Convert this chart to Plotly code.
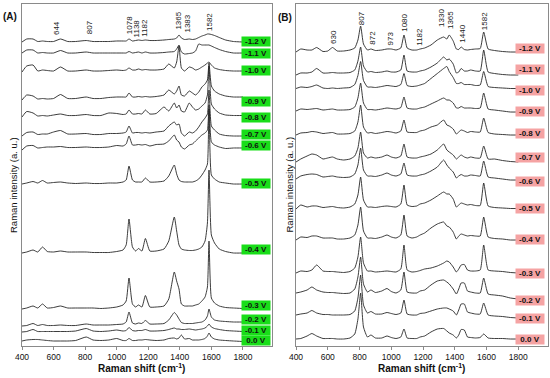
import plotly.graph_objects as go

# ---------------- data ----------------
potentials = ["-1.2 V", "-1.1 V", "-1.0 V", "-0.9 V", "-0.8 V", "-0.7 V", "-0.6 V",
              "-0.5 V", "-0.4 V", "-0.3 V", "-0.2 V", "-0.1 V", "0.0 V"]

# Panel A: Raman shift grid (cm-1) and relative intensities of each spectrum
wn_A = [400, 430, 470, 500, 530, 560, 600, 644, 690, 740,
        807, 850, 900, 950, 1000, 1040, 1060, 1078, 1100, 1120,
        1138, 1160, 1182, 1210, 1250, 1300, 1330, 1365, 1380, 1395,
        1410, 1430, 1460, 1480, 1500, 1520, 1540, 1560, 1575, 1585,
        1600, 1620, 1650, 1690, 1740, 1800]

A_m12 = [0, 3, 3, 0.5, 1, 0.5, 0.5, 3, 0.5, 0.5,
         1.5, 0.5, 0.5, 0.5, 1, 1, 1, 3, 1, 1.5,
         2, 1.5, 2, 1.5, 1.5, 2, 2.5, 3, 4, 7,
         4, 2.5, 3, 2.5, 3, 4.5, 6, 7, 8, 8,
         7.5, 6.5, 4.5, 2, 0.5, 0]
A_m11 = [0, 3, 3, 0, 0.5, 0, 0, 2.5, 0, 0,
         1, 0, 0, 0, 0, 0, 0, 1.5, 0, 0.5,
         1, 0, 1, 0, 0, 0.5, 1, 1.5, 4, 8,
         1, -1, -0.5, 0, 2, 9, 8, 8, 8, 8,
         7, 5.5, 3.5, 1.5, 0, 0]
A_m10 = [0, 6, 7, 1, 2, 1.5, 1, 5, 1, 1,
         2, 1, 1, 1.5, 2, 1.5, 2, 4, 2, 2,
         3, 2, 2.5, 2, 2, 3, 8, 4, 10, 26,
         4, 1, 5, 4, 2, 3, 5, 7, 9, 10,
         7, 4, 2.5, 1.5, 1, 1]
A_m09 = [0, 5, 4, 1, 1.5, 1, 1.5, 5.5, 1.5, 1.5,
         3, 1.5, 1.5, 2.5, 3, 3, 3, 7, 3, 3,
         3.5, 3, 3.5, 3, 3.5, 5, 10, 6, 9, 14,
         5, 4, 9, 7, 5, 8, 13, 16, 20, 37,
         14, 9, 6, 4, 3, 3]
A_m08 = [0, 5.5, 4, 1, 1.5, 1, 2, 3, 1.5, 1.5,
         2.5, 1.5, 1.5, 4, 3.5, 2.5, 3, 7, 3, 3,
         3.5, 3, 7, 3, 3.5, 10, 6, 14, 9, 12,
         6, 5, 14, 10, 7, 8, 11, 14, 22, 51,
         13, 8, 4, 2, 1.5, 1.5]
A_m07 = [0, 3.5, 4, 1.5, 2, 2, 4, 5.5, 2, 2,
         2.5, 1.5, 1.5, 2.5, 2.5, 3, 4, 10, 3, 3.5,
         3.5, 3, 3.5, 3, 4, 5, 10, 14, 11, 12,
         3, 0, 4, 3, 5, 9, 14, 18, 22, 46,
         10, 6, 2, 0.5, 0, 0]
A_m06 = [0, 4, 4.5, 2, 2.5, 3, 3, 3.5, 2.5, 2.5,
         3, 2.5, 2.5, 3, 4.5, 4, 6, 14, 5, 5,
         5.5, 5, 5.5, 4, 5.5, 6, 9, 15, 10, 8,
         3, 1, 5, 6, 9, 12, 15, 17, 20, 45,
         8, 5, 3, 1.5, 2, 2]
A_m05 = [0, 1, 2.5, 1, 3.5, 1, 1.5, 2, 1, 0.5,
         1, 0.5, 0.5, 1, 1, 2, 4, 18, 4, 2,
         2, 2, 6, 2, 2, 3, 8, 19, 10, 4,
         2.5, 2, 2, 2, 3, 5, 9, 14, 20, 75,
         9, 5, 2, 1, 0, 0]
A_m04 = [0, 1, 3, 1, 6, 1.5, 1, 2, 1, 1,
         1, 0.5, 0.5, 0.5, 1.5, 3, 8, 34, 6, 2,
         4.5, 2, 14.5, 2, 2, 4, 12, 36, 22, 8,
         4, 3, 2.5, 2.5, 3, 4, 6, 12, 30, 83,
         18, 10, 4, 1.5, 0, 0]
A_m03 = [0, 1, 3, 1, 5, 1, 1.5, 3, 1, 1,
         1, 1, 0.5, 1, 2, 4, 8, 31, 5, 2,
         4, 2, 13.5, 2, 2, 3, 10, 37, 28, 20,
         5, 3, 3, 3, 4, 5, 8, 12, 22, 68,
         11, 6, 3, 1.5, 1, 0.5]
A_m02 = [0, 0.5, 2.5, 0.5, 1.5, 0.5, 0.5, 1, 0.5, 0.5,
         2, 1, 1, 1, 1.5, 2, 4, 14, 3, 2,
         3, 2.5, 5.5, 2, 2, 2.5, 6, 13.5, 11, 7,
         3.5, 2.5, 2.5, 2.5, 3, 3.5, 4, 6, 10, 17,
         9, 6, 5, 4.5, 4, 4]
A_m01 = [0, 0.5, 2.5, 0.5, 0.5, 0.5, 0.5, 0.5, 0.5, 1,
         3.5, 1, 0.5, 1, 2, 1, 1.5, 4.5, 1.5, 1,
         1.5, 1.5, 2.5, 1, 1, 1.5, 2.5, 4, 3, 3,
         2.5, 2.5, 3, 2.5, 2, 2.5, 3, 4, 6, 8,
         5, 3.5, 2.5, 1.5, 1, 0.5]
A_000 = [1, 2, 2.5, 2.5, 2, 1.5, 1, 1, 1, 1.5,
         5, 2, 1.5, 2, 3.5, 1.5, 1.5, 3.5, 1.5, 1.5,
         2, 2, 2.5, 2, 1.5, 2, 3.5, 4, 3, 4,
         7, 3, 3.5, 2, 2, 2, 2.5, 3.5, 6, 9,
         5, 3, 2, 1.5, 1, 0.5]

# Panel B
wn_B = [400, 430, 470, 500, 530, 570, 600, 630, 660, 700,
        740, 770, 790, 807, 825, 850, 872, 900, 940, 973,
        1000, 1030, 1060, 1080, 1100, 1130, 1160, 1182, 1210, 1250,
        1290, 1330, 1350, 1365, 1390, 1410, 1425, 1440, 1460, 1480,
        1500, 1530, 1560, 1582, 1610, 1650, 1700, 1750, 1800]

B_m12 = [0, 3, 2, 2, 4.5, 0.5, 1, 4.5, 1, 1,
         2, 4, 12, 26, 8, 2, 3, 1.5, 2, 3,
         3, 2, 4, 17, 4, 2, 2, 3, 4, 7,
         12, 15, 13, 17, 11, 3, 2.5, 5, 2.5, 2,
         2.5, 3, 3.5, 20, 3, 1.5, 0.5, 0, 0]
B_m11 = [0, 2, 2, 3, 6.5, 2, 2, 2.5, 2, 2,
         2.5, 5, 14, 28, 9, 3, 3.5, 2.5, 3, 4,
         3, 3, 5, 20, 4, 3, 3, 4, 5, 8,
         12, 18, 15, 16, 11, 2, 3, 6.5, 4, 4,
         5, 4, 4, 25, 3, 1.5, 0.5, 0, 0]
B_m10 = [0, 1.5, 1, 2, 3.5, 0.5, 0, 0.5, 0, 0.5,
         1, 4, 13, 27, 8, 1.5, 1.5, 1, 2, 3,
         2.5, 2, 4, 15, 3, 2, 2.5, 3.5, 5, 10,
         15, 20, 22, 17, 11, 5, 5, 6, 4, 4,
         4, 3, 3.5, 17, 2, 1, 0.5, 0, 0]
B_m09 = [0, 2, 1.5, 2, 2.5, 1, 1.5, 2, 1, 1,
         1.5, 4, 13, 28, 8, 1.5, 1.5, 1, 2, 3,
         2.5, 2, 3.5, 14, 3, 2, 2, 3, 4, 7,
         10, 13, 11, 11, 8, 3, 3, 4.5, 3, 3,
         3, 2.5, 3, 18, 2, 1, 0, -1, -1]
B_m08 = [0, 2, 2.5, 3.5, 3, 1.5, 2, 2.5, 1, 1,
         1.5, 4, 13, 30, 8, 2, 2.5, 1.5, 2.5, 3.5,
         3, 2, 4, 15, 3, 2.5, 2.5, 4, 5, 8,
         10, 15, 10, 9, 6, 1, 3, 5, 4, 2.5,
         3.5, 3, 3, 17, 2.5, 1, 0.5, 0, 0]
B_m07 = [0, 3, 6, 8, 7, 3, 4, 5, 3, 2,
         3, 6, 14, 30, 9, 4, 5, 4, 5, 7,
         5, 4, 6, 18, 5, 4, 4, 5, 6, 8,
         12, 18, 12, 10, 7, 3, 5, 7, 5, 4,
         5, 4, 4, 16, 3, 3, 1.5, 0.5, 0]
B_m06 = [0, 3, 4.5, 5, 4.5, 2, 2.5, 3, 2, 1.5,
         2, 5, 14, 31, 9, 3, 3, 2.5, 4, 6,
         4, 3, 5, 16, 4, 3, 3, 4, 5, 8,
         12, 19, 14, 11, 7, 1, 3, 4.5, 3, 3,
         4, 3.5, 3, 18, 2, 1, 0, -1, -1]
B_m05 = [0, 4, 2, 3, 3, 1.5, 2, 2.5, 1.5, 1,
         2, 5, 14, 32, 9, 2, 2, 1.5, 2.5, 3,
         2.5, 2, 5, 24, 4, 2.5, 3, 5, 6, 9,
         13, 17, 15, 15, 10, 2, 4, 6, 5, 4,
         4.5, 3.5, 3.5, 26, 3, 1.5, 1, 0.5, 0.5]
B_m04 = [0, 3, 2.5, 4, 4, 2, 2, 2, 1, 1,
         2, 5, 15, 33, 9, 2, 2, 1.5, 3, 5,
         3, 2, 5, 25, 4, 2, 3, 5, 7, 12,
         16, 18, 14, 13, 8, 1, 4, 6, 5, 4,
         4.5, 4, 4, 23, 3, 1.5, 1, 0, 0]
B_m03 = [0, 2, 1.5, 3, 8, 2, 1.5, 1.5, 1, 0.5,
         1.5, 5, 16, 36, 10, 2, 2, 1, 1.5, 2,
         1.5, 1, 4, 28, 3, 1, 1.5, 2.5, 4, 5,
         7, 10, 12, 11, 6, 1, 4, 8, 8.5, 3,
         2, 2, 3, 28, 3, 2, 1.5, 0.5, 0]
B_m02 = [0, 1, 3, 6, 3, 1, 0.5, 0.5, 0, -0.5,
         0, 4, 16, 36, 9, 1, 3, 0.5, 2, 4.5,
         1.5, 0, 3, 21, 1, 0, 0, 2, 3, 8,
         12, 13, 11, 9, 4, -1, 4, 10, 10, 2,
         1, 0, 0, 15, -1, -2, -3, -5, -6]
B_m01 = [0, 1, 2, 4.5, 2, 0.5, 0.5, 0, 0, 0,
         0.5, 4, 17, 40, 10, 2, 3.5, 1, 1, 2.5,
         1.5, 0.5, 2, 15, 1, 0, 0, 1.5, 2, 4,
         6, 7, 7, 6, 4, 0, 5, 11, 11, 3,
         2, 1, 1, 12, 0, -1, -1.5, -2.5, -3]
B_000 = [0, 0.5, 3, 5.5, 3, 0.5, 0.5, 0.5, 0, 0,
         1, 5, 20, 46, 12, 2, 4, 1, 1, 3,
         1.5, 0.5, 2, 10, 1, 0.5, 0.5, 2, 3, 7,
         10, 10.5, 8, 6, 4, 1, 4, 9.5, 9, 2,
         1.5, 1, 1.5, 5, 1, 0.5, 0.5, 0, 0]

# stacking offsets (a. u.)
offsets_A = [304, 293, 274, 246, 229, 210, 196, 162, 93, 37, 20, 14, 4]
offsets_B = [294, 271, 257.5, 235, 211, 184, 167, 137, 106, 73, 53, 31, 7]

# peak labels
peaks_A = ["644", "807", "1078", "1138", "1182", "1365", "1383", "1582"]
peaks_B = ["630", "807", "872", "973", "1080", "1182", "1330", "1365", "1440", "1582"]

ticks = [400, 600, 800, 1000, 1200, 1400, 1600, 1800]

spectra_A = [A_m12, A_m11, A_m10, A_m09, A_m08, A_m07, A_m06,
             A_m05, A_m04, A_m03, A_m02, A_m01, A_000]
spectra_B = [B_m12, B_m11, B_m10, B_m09, B_m08, B_m07, B_m06,
             B_m05, B_m04, B_m03, B_m02, B_m01, B_000]

# ---------------- layout helpers ----------------
W, H = 550, 378
TOP, BOT = 4, 346          # plot area (px)
def py(v):                  # pixel-y -> data value
    return BOT - v

FONT = "Arial, Liberation Sans, sans-serif"
fig = go.Figure()

line_style = dict(color="#262626", width=0.9, shape="spline", smoothing=0.5)
for vals, off in zip(spectra_A, offsets_A):
    fig.add_trace(go.Scatter(x=wn_A, y=[v + off for v in vals], mode="lines",
                             line=line_style, xaxis="x", yaxis="y",
                             showlegend=False, hoverinfo="skip"))
for vals, off in zip(spectra_B, offsets_B):
    fig.add_trace(go.Scatter(x=wn_B, y=[v + off for v in vals], mode="lines",
                             line=line_style, xaxis="x2", yaxis="y2",
                             showlegend=False, hoverinfo="skip"))

frame = "#8a8a8a"
ydom = [(H - BOT) / H, (H - TOP) / H]
xcommon = dict(tickvals=ticks, ticks="outside", ticklen=3, tickcolor=frame,
               showline=True, linecolor=frame, linewidth=1, mirror=True,
               showgrid=False, zeroline=False, automargin=False,
               tickfont=dict(family=FONT, size=8.5, color="#111"))
ycommon = dict(range=[0, BOT - TOP], showline=True, linecolor=frame, linewidth=1,
               mirror=True, showgrid=False, zeroline=False, showticklabels=False,
               ticks="", automargin=False)
fig.update_layout(
    width=W, height=H, margin=dict(l=0, r=0, t=0, b=0, pad=0, autoexpand=False),
    autosize=False,
    paper_bgcolor="white", plot_bgcolor="white",
    xaxis=dict(domain=[22 / W, 271.5 / W], range=[400, 1981], anchor="y", **xcommon),
    yaxis=dict(domain=ydom, anchor="x", **ycommon),
    xaxis2=dict(domain=[296 / W, 548 / W], range=[400, 1987], anchor="y2", **xcommon),
    yaxis2=dict(domain=ydom, anchor="x2", **ycommon),
)

ann = []
C = dict(xanchor="center", yanchor="middle", showarrow=False)
# potential labels
labA_py = [41.7, 53.3, 70, 101, 117.3, 134, 145.7, 183.3, 249, 305.7, 319, 330, 340]
labB_py = [48.3, 69.3, 90, 111.7, 133.3, 157.3, 181.7, 208.3, 239.3, 273.3, 300.7, 318.3, 339]
for name, p in zip(potentials, labA_py):
    ann.append(dict(x=1880, y=py(p), xref="x", yref="y", text="<b>%s</b>" % name,
                    bgcolor="#19dd19", width=27, height=8, borderpad=0.5,
                    font=dict(family=FONT, size=8, color="#111"), **C))
for name, p in zip(potentials, labB_py):
    ann.append(dict(x=1873, y=py(p), xref="x2", yref="y2", text="<b>%s</b>" % name,
                    bgcolor="#f5a3a3", width=27, height=8, borderpad=0.5,
                    font=dict(family=FONT, size=8, color="#111"), **C))

# peak labels (rotated)
pkA_x = [619, 826, 1079, 1125, 1172, 1389, 1446, 1585]
pkA_py = [28.5, 27, 25, 28, 28, 20.5, 23.5, 22]
for t, x, p in zip(peaks_A, pkA_x, pkA_py):
    ann.append(dict(x=x, y=py(p), xref="x", yref="y", text=t, textangle=-90,
                    font=dict(family=FONT, size=8, color="#222"), **C))
pkB_x = [635, 809, 877, 995, 1082, 1181, 1317, 1370, 1448, 1586]
pkB_py = [36.7, 18.3, 38, 38, 22.5, 36.7, 18.3, 20, 33.3, 20.8]
for t, x, p in zip(peaks_B, pkB_x, pkB_py):
    ann.append(dict(x=x, y=py(p), xref="x2", yref="y2", text=t, textangle=-90,
                    font=dict(family=FONT, size=8, color="#222"), **C))

# panel letters
ann.append(dict(x=10 / W, y=1 - 16 / H, xref="paper", yref="paper", text="<b>(A)</b>",
                font=dict(family=FONT, size=10, color="#111"), **C))
ann.append(dict(x=285 / W, y=1 - 17 / H, xref="paper", yref="paper", text="<b>(B)</b>",
                font=dict(family=FONT, size=10, color="#111"), **C))
# axis titles
for xc in (13, 288.5):
    ann.append(dict(x=xc / W, y=1 - 185 / H, xref="paper", yref="paper",
                    text="Raman intensity (a. u.)", textangle=-90,
                    font=dict(family=FONT, size=9.5, color="#111"), **C))
for xc in (141, 421):
    ann.append(dict(x=xc / W, y=1 - 368 / H, xref="paper", yref="paper",
                    text="<b>Raman shift (cm<sup>-1</sup>)</b>",
                    font=dict(family=FONT, size=10, color="#111"), **C))

fig.update_layout(annotations=ann)
fig.write_html("out.html", config={"displayModeBar": False},
               post_script="document.body.style.margin='0px';"
                           "document.documentElement.style.overflow='hidden';")
